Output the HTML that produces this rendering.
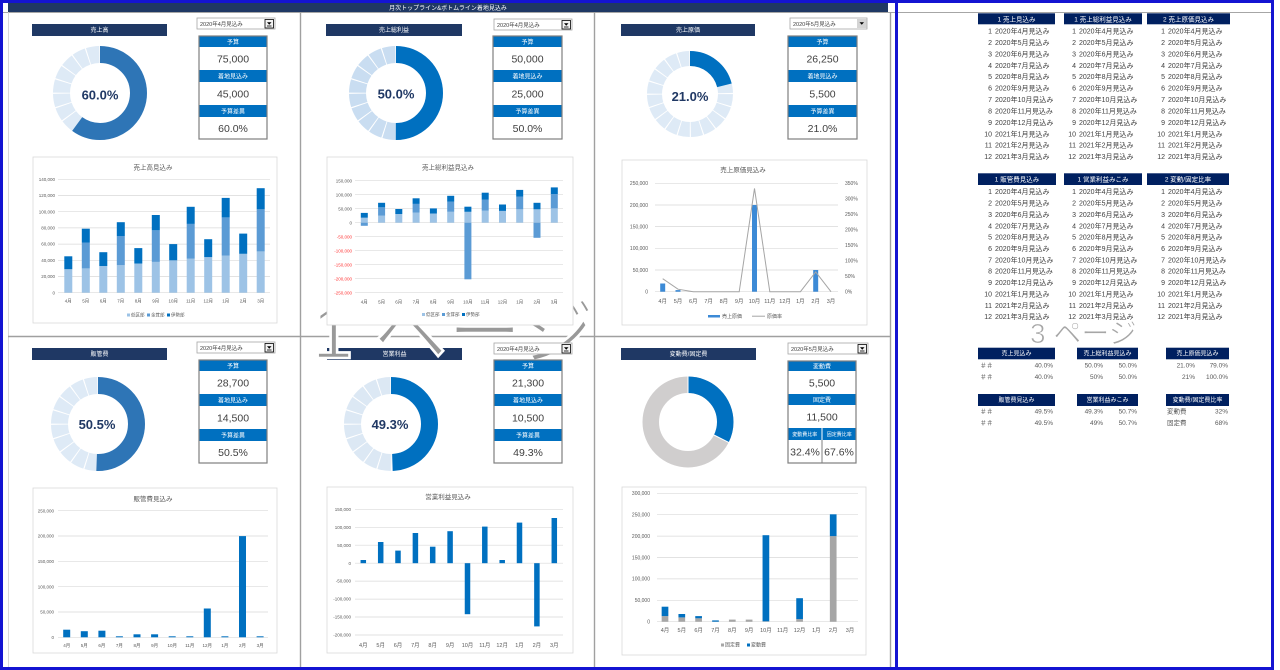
<!DOCTYPE html>
<html><head><meta charset="utf-8">
<style>
html,body{margin:0;padding:0;background:#fff;}
svg{display:block;font-family:"Liberation Sans","Noto Sans CJK JP",sans-serif;}
.t6{font-size:6px;fill:#fff;text-anchor:middle}
.val{font-size:10.5px;fill:#404040;text-anchor:middle}
.pct{font-size:13px;font-weight:bold;fill:#203864;text-anchor:middle}
.ax{font-size:4.5px;fill:#595959;text-anchor:end}
.ax5{font-size:5px;fill:#595959;text-anchor:end}
.axr{font-size:5px;fill:#595959;text-anchor:start}
.xl{font-size:4.5px;fill:#595959;text-anchor:middle}
.xl5{font-size:5.5px;fill:#595959;text-anchor:middle}
.ct{font-size:6.5px;fill:#595959;text-anchor:middle}
.lg{font-size:4.5px;fill:#595959}
.red{fill:#FF3B3B}
.rt{font-size:7px;fill:#404040}
.rn{font-size:7px;fill:#404040;text-anchor:end}
.rh{font-size:6.5px;fill:#fff;text-anchor:middle}
.sv{font-size:6.5px;fill:#595959;text-anchor:end}
.ss{font-size:6.5px;fill:#595959}
.dd{font-size:5.5px;fill:#404040}
.grid{stroke:#D9D9D9;stroke-width:0.7;fill:none}
.cb{fill:#fff;stroke:#D9D9D9;stroke-width:0.8}
</style></head><body>
<svg width="1280" height="670" viewBox="0 0 1280 670" xmlns="http://www.w3.org/2000/svg">
<rect width="1280" height="670" fill="#fff"/>

<!-- title bar and grid lines -->
<rect x="8" y="3" width="880" height="9" fill="#1F3864"/>
<text x="448" y="10" class="t6">月次トップライン&amp;ボトムライン着地見込み</text>
<line x1="3" y1="12.5" x2="895" y2="12.5" stroke="#A6A6A6" stroke-width="1"/>
<line x1="898" y1="12.5" x2="1271" y2="12.5" stroke="#A6A6A6" stroke-width="1"/>
<line x1="8.5" y1="12" x2="8.5" y2="667" stroke="#D0D0D0" stroke-width="0.8"/>
<line x1="300.5" y1="12" x2="300.5" y2="667" stroke="#A0A0A0" stroke-width="1.4"/>
<line x1="594.5" y1="12" x2="594.5" y2="667" stroke="#A0A0A0" stroke-width="1.4"/>
<line x1="890.5" y1="12" x2="890.5" y2="667" stroke="#A0A0A0" stroke-width="1.4"/>
<line x1="8" y1="336.5" x2="890" y2="336.5" stroke="#A0A0A0" stroke-width="1.4"/>

<!-- panel headers -->
<rect x="32" y="24" width="135" height="12" fill="#1F3864"/><text x="99.5" y="32.2" class="t6">売上高</text>
<rect x="326" y="24" width="136" height="12" fill="#1F3864"/><text x="394" y="32.2" class="t6">売上総利益</text>
<rect x="621" y="24" width="134" height="12" fill="#1F3864"/><text x="688" y="32.2" class="t6">売上原価</text>
<rect x="32" y="348" width="135" height="12" fill="#1F3864"/><text x="99.5" y="356.2" class="t6">販管費</text>
<rect x="327" y="348" width="135" height="12" fill="#1F3864"/><text x="394.5" y="356.2" class="t6">営業利益</text>
<rect x="621" y="348" width="135" height="12" fill="#1F3864"/><text x="688.5" y="356.2" class="t6">変動費/固定費</text>

<!-- watermark page 1 -->
<text x="312" y="358" style="font-size:74px;fill:#999999;stroke:#ffffff;stroke-width:2.6px">1 ページ</text>

<!-- value boxes -->
<g transform="translate(199,36)">
<rect width="68" height="103" fill="#fff"/>
<rect width="68" height="11" fill="#0070C0"/><rect y="34" width="68" height="12" fill="#0070C0"/><rect y="69" width="68" height="12" fill="#0070C0"/>
<rect width="68" height="103" fill="none" stroke="#7F7F7F" stroke-width="1.2"/>
<text x="34" y="8" class="t6">予算</text><text x="34" y="26.5" class="val">75,000</text>
<text x="34" y="42.5" class="t6">着地見込み</text><text x="34" y="61.5" class="val">45,000</text>
<text x="34" y="77.5" class="t6">予算差異</text><text x="34" y="96" class="val">60.0%</text>
</g>
<g transform="translate(493,36)">
<rect width="69" height="103" fill="#fff"/>
<rect width="69" height="11" fill="#0070C0"/><rect y="34" width="69" height="12" fill="#0070C0"/><rect y="69" width="69" height="12" fill="#0070C0"/>
<rect width="69" height="103" fill="none" stroke="#7F7F7F" stroke-width="1.2"/>
<text x="34.5" y="8" class="t6">予算</text><text x="34.5" y="26.5" class="val">50,000</text>
<text x="34.5" y="42.5" class="t6">着地見込み</text><text x="34.5" y="61.5" class="val">25,000</text>
<text x="34.5" y="77.5" class="t6">予算差異</text><text x="34.5" y="96" class="val">50.0%</text>
</g>
<g transform="translate(788,36)">
<rect width="69" height="103" fill="#fff"/>
<rect width="69" height="11" fill="#0070C0"/><rect y="34" width="69" height="12" fill="#0070C0"/><rect y="69" width="69" height="12" fill="#0070C0"/>
<rect width="69" height="103" fill="none" stroke="#7F7F7F" stroke-width="1.2"/>
<text x="34.5" y="8" class="t6">予算</text><text x="34.5" y="26.5" class="val">26,250</text>
<text x="34.5" y="42.5" class="t6">着地見込み</text><text x="34.5" y="61.5" class="val">5,500</text>
<text x="34.5" y="77.5" class="t6">予算差異</text><text x="34.5" y="96" class="val">21.0%</text>
</g>
<g transform="translate(199,360)">
<rect width="68" height="103" fill="#fff"/>
<rect width="68" height="11" fill="#0070C0"/><rect y="34" width="68" height="12" fill="#0070C0"/><rect y="69" width="68" height="12" fill="#0070C0"/>
<rect width="68" height="103" fill="none" stroke="#7F7F7F" stroke-width="1.2"/>
<text x="34" y="8" class="t6">予算</text><text x="34" y="26.5" class="val">28,700</text>
<text x="34" y="42.5" class="t6">着地見込み</text><text x="34" y="61.5" class="val">14,500</text>
<text x="34" y="77.5" class="t6">予算差異</text><text x="34" y="96" class="val">50.5%</text>
</g>
<g transform="translate(494,360)">
<rect width="68" height="103" fill="#fff"/>
<rect width="68" height="11" fill="#0070C0"/><rect y="34" width="68" height="12" fill="#0070C0"/><rect y="69" width="68" height="12" fill="#0070C0"/>
<rect width="68" height="103" fill="none" stroke="#7F7F7F" stroke-width="1.2"/>
<text x="34" y="8" class="t6">予算</text><text x="34" y="26.5" class="val">21,300</text>
<text x="34" y="42.5" class="t6">着地見込み</text><text x="34" y="61.5" class="val">10,500</text>
<text x="34" y="77.5" class="t6">予算差異</text><text x="34" y="96" class="val">49.3%</text>
</g>
<g transform="translate(788,361)">
<rect width="68" height="102" fill="#fff"/>
<rect width="68" height="10" fill="#0070C0"/><rect y="33" width="68" height="11" fill="#0070C0"/>
<rect y="67" width="33.5" height="12" fill="#0070C0"/><rect x="34.5" y="67" width="33.5" height="12" fill="#0070C0"/>
<line x1="34" y1="79" x2="34" y2="102" stroke="#7F7F7F" stroke-width="1"/>
<rect width="68" height="102" fill="none" stroke="#7F7F7F" stroke-width="1.2"/>
<text x="34" y="7.5" class="t6">変動費</text><text x="34" y="25.5" class="val">5,500</text>
<text x="34" y="41" class="t6">固定費</text><text x="34" y="59.5" class="val">11,500</text>
<text x="16.75" y="75" class="t6" style="font-size:5px">変動費比率</text><text x="51.25" y="75" class="t6" style="font-size:5px">固定費比率</text>
<text x="17" y="94.5" class="val" style="font-size:10.5px">32.4%</text><text x="51" y="94.5" class="val" style="font-size:10.5px">67.6%</text>
</g>

<!-- dropdowns -->
<g transform="translate(197,18)"><rect width="78" height="11" fill="#fff" stroke="#A6A6A6" stroke-width="0.8"/><text x="3" y="8" class="dd">2020年4月見込み</text><rect x="68" y="1.5" width="8.5" height="8.5" fill="#F2F2F2" stroke="#000" stroke-width="0.8"/><path d="M70 4.3H74.5L72.25 6.8Z" fill="#000"/><rect x="70" y="7.6" width="4.5" height="0.8" fill="#000"/></g>
<g transform="translate(494,19)"><rect width="78" height="11" fill="#fff" stroke="#A6A6A6" stroke-width="0.8"/><text x="3" y="8" class="dd">2020年4月見込み</text><rect x="68" y="1.5" width="8.5" height="8.5" fill="#F2F2F2" stroke="#000" stroke-width="0.8"/><path d="M70 4.3H74.5L72.25 6.8Z" fill="#000"/><rect x="70" y="7.6" width="4.5" height="0.8" fill="#000"/></g>
<g transform="translate(790,18)"><rect width="77" height="11" fill="#fff" stroke="#A6A6A6" stroke-width="0.8"/><text x="3" y="8" class="dd">2020年5月見込み</text><rect x="67" y="1" width="9.5" height="9" fill="#D4D4D4"/><path d="M69.5 4.3H74L71.75 6.8Z" fill="#000"/></g>
<g transform="translate(197,342)"><rect width="78" height="11" fill="#fff" stroke="#A6A6A6" stroke-width="0.8"/><text x="3" y="8" class="dd">2020年4月見込み</text><rect x="68" y="1.5" width="8.5" height="8.5" fill="#F2F2F2" stroke="#000" stroke-width="0.8"/><path d="M70 4.3H74.5L72.25 6.8Z" fill="#000"/><rect x="70" y="7.6" width="4.5" height="0.8" fill="#000"/></g>
<g transform="translate(494,343)"><rect width="78" height="11" fill="#fff" stroke="#A6A6A6" stroke-width="0.8"/><text x="3" y="8" class="dd">2020年4月見込み</text><rect x="68" y="1.5" width="8.5" height="8.5" fill="#F2F2F2" stroke="#000" stroke-width="0.8"/><path d="M70 4.3H74.5L72.25 6.8Z" fill="#000"/><rect x="70" y="7.6" width="4.5" height="0.8" fill="#000"/></g>
<g transform="translate(788,343)"><rect width="80" height="11" fill="#fff" stroke="#A6A6A6" stroke-width="0.8"/><text x="3" y="8" class="dd">2020年5月見込み</text><rect x="70" y="1.5" width="8.5" height="8.5" fill="#F2F2F2" stroke="#000" stroke-width="0.8"/><path d="M72 4.3H76.5L74.25 6.8Z" fill="#000"/><rect x="72" y="7.6" width="4.5" height="0.8" fill="#000"/></g>

<!-- donuts -->
<circle cx="100" cy="93" r="38.5" fill="none" stroke="#DEEAF6" stroke-width="17" stroke-dasharray="11.095 1" transform="rotate(-90 100 93)"/>
<circle cx="100" cy="93" r="38.5" fill="none" stroke="#2E75B6" stroke-width="17" stroke-dasharray="145.14 400" transform="rotate(-90 100 93)"/>
<text x="100" y="99.5" class="pct">60.0%</text>

<circle cx="396" cy="93" r="38.5" fill="none" stroke="#C9DDF1" stroke-width="17" stroke-dasharray="11.095 1" transform="rotate(-90 396 93)"/>
<circle cx="396" cy="93" r="38.5" fill="none" stroke="#0070C0" stroke-width="17" stroke-dasharray="120.95 400" transform="rotate(-90 396 93)"/>
<text x="396" y="98.5" class="pct">50.0%</text>

<circle cx="690" cy="94" r="35.5" fill="none" stroke="#DEEAF6" stroke-width="15" stroke-dasharray="10.153 1" transform="rotate(-90 690 94)"/>
<circle cx="690" cy="94" r="35.5" fill="none" stroke="#0070C0" stroke-width="15" stroke-dasharray="46.84 400" transform="rotate(-90 690 94)"/>
<text x="690" y="101" class="pct">21.0%</text>

<circle cx="98" cy="424" r="38.5" fill="none" stroke="#DEEAF6" stroke-width="17" stroke-dasharray="11.095 1" transform="rotate(-90 98 424)"/>
<circle cx="98" cy="424" r="38.5" fill="none" stroke="#2E75B6" stroke-width="17" stroke-dasharray="122.16 400" transform="rotate(-90 98 424)"/>
<text x="97" y="429" class="pct">50.5%</text>

<circle cx="391" cy="424" r="38.5" fill="none" stroke="#DCE8F4" stroke-width="17" stroke-dasharray="11.095 1" transform="rotate(-90 391 424)"/>
<circle cx="391" cy="424" r="38.5" fill="none" stroke="#0070C0" stroke-width="17" stroke-dasharray="119.26 400" transform="rotate(-90 391 424)"/>
<text x="390" y="429" class="pct">49.3%</text>

<circle cx="688" cy="422" r="37.25" fill="none" stroke="#D0CECE" stroke-width="16.5"/>
<circle cx="688" cy="422" r="37.25" fill="none" stroke="#0070C0" stroke-width="16.5" stroke-dasharray="75.83 400" transform="rotate(-90 688 422)"/>
<line x1="688" y1="393" x2="688" y2="376" stroke="#fff" stroke-width="1"/>
<line x1="713.9" y1="435" x2="729" y2="442.6" stroke="#fff" stroke-width="1"/>

<!-- chart 1 -->
<rect x="33" y="157" width="244" height="166" class="cb"/>
<text x="153" y="169.5" class="ct">売上高見込み</text>
<path class="grid" d="M58 179.3H270M58 195.5H270M58 211.7H270M58 227.9H270M58 244.1H270M58 260.3H270M58 276.5H270M58 292.7H270"/>
<text class="ax"><tspan x="55" y="180.9">140,000</tspan><tspan x="55" y="197.1">120,000</tspan><tspan x="55" y="213.3">100,000</tspan><tspan x="55" y="229.5">80,000</tspan><tspan x="55" y="245.7">60,000</tspan><tspan x="55" y="261.9">40,000</tspan><tspan x="55" y="278.1">20,000</tspan><tspan x="55" y="294.3">0</tspan></text>
<g fill="#9DC3E6">
<rect x="64.3" y="269.2" width="8" height="23.5"/><rect x="81.8" y="268.4" width="8" height="24.3"/><rect x="99.3" y="266" width="8" height="26.7"/><rect x="116.8" y="265.2" width="8" height="27.5"/><rect x="134.3" y="263.5" width="8" height="29.2"/><rect x="151.8" y="261.9" width="8" height="30.8"/><rect x="169.2" y="260.3" width="8" height="32.4"/><rect x="186.7" y="258.7" width="8" height="34"/><rect x="204.2" y="257.1" width="8" height="35.6"/><rect x="221.7" y="255.5" width="8" height="37.2"/><rect x="239.2" y="253.8" width="8" height="38.9"/><rect x="256.7" y="251.4" width="8" height="41.3"/>
</g>
<g fill="#5B9BD5">
<rect x="81.8" y="242.5" width="8" height="25.9"/><rect x="116.8" y="236" width="8" height="29.2"/><rect x="151.8" y="230.3" width="8" height="31.6"/><rect x="186.7" y="223.9" width="8" height="34.8"/><rect x="221.7" y="217.4" width="8" height="38.1"/><rect x="256.7" y="209.3" width="8" height="42.1"/>
</g>
<g fill="#0070C0">
<rect x="64.3" y="256.3" width="8" height="12.9"/><rect x="81.8" y="228.7" width="8" height="13.8"/><rect x="99.3" y="252.2" width="8" height="13.8"/><rect x="116.8" y="222.2" width="8" height="13.8"/><rect x="134.3" y="248.1" width="8" height="15.4"/><rect x="151.8" y="215" width="8" height="15.3"/><rect x="169.2" y="244.1" width="8" height="16.2"/><rect x="186.7" y="206.8" width="8" height="17.1"/><rect x="204.2" y="239.2" width="8" height="17.9"/><rect x="221.7" y="197.9" width="8" height="19.5"/><rect x="239.2" y="233.6" width="8" height="20.2"/><rect x="256.7" y="188.2" width="8" height="21.1"/>
</g>
<text class="xl"><tspan x="68.3" y="302.5">4月</tspan><tspan x="85.8" y="302.5">5月</tspan><tspan x="103.3" y="302.5">6月</tspan><tspan x="120.8" y="302.5">7月</tspan><tspan x="138.3" y="302.5">8月</tspan><tspan x="155.8" y="302.5">9月</tspan><tspan x="173.2" y="302.5">10月</tspan><tspan x="190.7" y="302.5">11月</tspan><tspan x="208.2" y="302.5">12月</tspan><tspan x="225.7" y="302.5">1月</tspan><tspan x="243.2" y="302.5">2月</tspan><tspan x="260.7" y="302.5">3月</tspan></text>
<rect x="127" y="313.5" width="3" height="3" fill="#9DC3E6"/><text x="131" y="316.5" class="lg">低区部</text>
<rect x="147" y="313.5" width="3" height="3" fill="#5B9BD5"/><text x="151" y="316.5" class="lg">金茸部</text>
<rect x="167" y="313.5" width="3" height="3" fill="#0070C0"/><text x="171" y="316.5" class="lg">伊勢部</text>

<!-- chart 2 -->
<rect x="327" y="157" width="246" height="168" class="cb"/>
<text x="448" y="169.5" class="ct">売上総利益見込み</text>
<path class="grid" d="M355 180.7H563M355 194.7H563M355 208.7H563M355 222.7H563M355 236.7H563M355 250.7H563M355 264.7H563M355 278.7H563M355 292.7H563"/>
<text class="ax"><tspan x="352" y="182.3">150,000</tspan><tspan x="352" y="196.3">100,000</tspan><tspan x="352" y="210.3">50,000</tspan><tspan x="352" y="224.3">0</tspan></text>
<text class="ax red"><tspan x="352" y="238.3">-50,000</tspan><tspan x="352" y="252.3">-100,000</tspan><tspan x="352" y="266.3">-150,000</tspan><tspan x="352" y="280.3">-200,000</tspan><tspan x="352" y="294.3">-250,000</tspan></text>
<g fill="#9DC3E6">
<rect x="360.8" y="217.7" width="7" height="5"/><rect x="378.1" y="215.7" width="7" height="7"/><rect x="395.3" y="214" width="7" height="8.7"/><rect x="412.6" y="212.6" width="7" height="10.1"/><rect x="429.9" y="213.5" width="7" height="9.2"/><rect x="447.2" y="211.8" width="7" height="10.9"/><rect x="464.4" y="211.8" width="7" height="10.9"/><rect x="481.7" y="210.7" width="7" height="12"/><rect x="499" y="210.9" width="7" height="11.8"/><rect x="516.2" y="209.3" width="7" height="13.4"/><rect x="533.5" y="209.3" width="7" height="13.4"/><rect x="550.8" y="208.4" width="7" height="14.3"/>
</g>
<g fill="#5B9BD5">
<rect x="360.8" y="222.7" width="7" height="3.1"/><rect x="378.1" y="207.3" width="7" height="8.4"/><rect x="412.6" y="203.9" width="7" height="8.7"/><rect x="447.2" y="201.7" width="7" height="10.1"/><rect x="464.4" y="222.7" width="7" height="56.6"/><rect x="481.7" y="199.5" width="7" height="11.2"/><rect x="516.2" y="196.7" width="7" height="12.6"/><rect x="533.5" y="222.7" width="7" height="15.1"/><rect x="550.8" y="194.1" width="7" height="14.3"/>
</g>
<g fill="#0070C0">
<rect x="360.8" y="212.9" width="7" height="4.8"/><rect x="378.1" y="202.8" width="7" height="4.5"/><rect x="395.3" y="209" width="7" height="5"/><rect x="412.6" y="198.3" width="7" height="5.6"/><rect x="429.9" y="208.4" width="7" height="5.1"/><rect x="447.2" y="195.8" width="7" height="5.9"/><rect x="464.4" y="206.7" width="7" height="5.1"/><rect x="481.7" y="192.7" width="7" height="6.8"/><rect x="499" y="204.5" width="7" height="6.4"/><rect x="516.2" y="189.9" width="7" height="6.8"/><rect x="533.5" y="202.8" width="7" height="6.5"/><rect x="550.8" y="187.4" width="7" height="6.7"/>
</g>
<text class="xl"><tspan x="364.3" y="303.5">4月</tspan><tspan x="381.6" y="303.5">5月</tspan><tspan x="398.8" y="303.5">6月</tspan><tspan x="416.1" y="303.5">7月</tspan><tspan x="433.4" y="303.5">8月</tspan><tspan x="450.7" y="303.5">9月</tspan><tspan x="467.9" y="303.5">10月</tspan><tspan x="485.2" y="303.5">11月</tspan><tspan x="502.5" y="303.5">12月</tspan><tspan x="519.7" y="303.5">1月</tspan><tspan x="537" y="303.5">2月</tspan><tspan x="554.3" y="303.5">3月</tspan></text>
<rect x="422" y="313" width="3" height="3" fill="#9DC3E6"/><text x="426" y="316" class="lg">低区部</text>
<rect x="442" y="313" width="3" height="3" fill="#5B9BD5"/><text x="446" y="316" class="lg">金茸部</text>
<rect x="462" y="313" width="3" height="3" fill="#0070C0"/><text x="466" y="316" class="lg">伊勢部</text>

<!-- chart 3 -->
<rect x="622" y="160" width="245" height="165" class="cb"/>
<text x="743" y="172" class="ct">売上原価見込み</text>
<path class="grid" d="M655 183.3H838M655 205H838M655 226.6H838M655 248.3H838M655 270H838M655 291.7H838"/>
<text class="ax5"><tspan x="648" y="185.1">250,000</tspan><tspan x="648" y="206.8">200,000</tspan><tspan x="648" y="228.4">150,000</tspan><tspan x="648" y="250.1">100,000</tspan><tspan x="648" y="271.8">50,000</tspan><tspan x="648" y="293.5">0</tspan></text>
<text class="axr"><tspan x="845" y="185.1">350%</tspan><tspan x="845" y="200.6">300%</tspan><tspan x="845" y="216">250%</tspan><tspan x="845" y="231.5">200%</tspan><tspan x="845" y="247">150%</tspan><tspan x="845" y="262.5">100%</tspan><tspan x="845" y="278">50%</tspan><tspan x="845" y="293.5">0%</tspan></text>
<g fill="#3C8AD6">
<rect x="660.2" y="283.5" width="5" height="8.2"/><rect x="675.5" y="290.1" width="5" height="1.6"/><rect x="752" y="205" width="5" height="86.7"/><rect x="813.2" y="270" width="5" height="21.7"/>
</g>
<polyline fill="none" stroke="#A5A5A5" stroke-width="1" points="662.7,278.7 678,289.2 693.3,291.7 708.6,291.7 723.9,291.7 739.2,291.7 754.5,188.5 769.8,291.7 785.1,291.7 800.4,291.7 815.7,271.9 831,291.7"/>
<text class="xl5"><tspan x="662.7" y="303">4月</tspan><tspan x="678" y="303">5月</tspan><tspan x="693.3" y="303">6月</tspan><tspan x="708.6" y="303">7月</tspan><tspan x="723.9" y="303">8月</tspan><tspan x="739.2" y="303">9月</tspan><tspan x="754.5" y="303">10月</tspan><tspan x="769.8" y="303">11月</tspan><tspan x="785.1" y="303">12月</tspan><tspan x="800.4" y="303">1月</tspan><tspan x="815.7" y="303">2月</tspan><tspan x="831" y="303">3月</tspan></text>
<rect x="708" y="315" width="12" height="2.5" fill="#3C8AD6"/><text x="722" y="318" class="lg" style="font-size:5px">売上原価</text>
<line x1="752" y1="316.2" x2="765" y2="316.2" stroke="#A5A5A5" stroke-width="1"/><text x="767" y="318" class="lg" style="font-size:5px">原価率</text>

<!-- chart 4 -->
<rect x="33" y="488" width="244" height="165" class="cb"/>
<text x="153" y="501" class="ct">販管費見込み</text>
<path class="grid" d="M58 510.7H268M58 536H268M58 561.3H268M58 586.7H268M58 612H268M58 637.3H268"/>
<text class="ax"><tspan x="54" y="512.3">250,000</tspan><tspan x="54" y="537.6">200,000</tspan><tspan x="54" y="562.9">150,000</tspan><tspan x="54" y="588.3">100,000</tspan><tspan x="54" y="613.6">50,000</tspan><tspan x="54" y="638.9">0</tspan></text>
<g fill="#0070C0">
<rect x="63.2" y="629.7" width="7" height="7.6"/><rect x="80.8" y="631.2" width="7" height="6.1"/><rect x="98.4" y="630.7" width="7" height="6.6"/><rect x="115.9" y="636.3" width="7" height="1"/><rect x="133.5" y="634.3" width="7" height="3"/><rect x="151.1" y="634.3" width="7" height="3"/><rect x="168.7" y="636.3" width="7" height="1"/><rect x="186.3" y="636.3" width="7" height="1"/><rect x="203.8" y="608.5" width="7" height="28.8"/><rect x="221.4" y="636.3" width="7" height="1"/><rect x="239" y="536.1" width="7" height="101.2"/><rect x="256.6" y="636.3" width="7" height="1"/>
</g>
<text class="xl"><tspan x="66.7" y="647">4月</tspan><tspan x="84.3" y="647">5月</tspan><tspan x="101.9" y="647">6月</tspan><tspan x="119.4" y="647">7月</tspan><tspan x="137" y="647">8月</tspan><tspan x="154.6" y="647">9月</tspan><tspan x="172.2" y="647">10月</tspan><tspan x="189.8" y="647">11月</tspan><tspan x="207.3" y="647">12月</tspan><tspan x="224.9" y="647">1月</tspan><tspan x="242.5" y="647">2月</tspan><tspan x="260.1" y="647">3月</tspan></text>

<!-- chart 5 -->
<rect x="327" y="487" width="246" height="166" class="cb"/>
<text x="448" y="499" class="ct">営業利益見込み</text>
<path class="grid" d="M355 509.3H563M355 527.3H563M355 545.2H563M355 563.2H563M355 581.1H563M355 599.1H563M355 617H563M355 635H563"/>
<text class="ax"><tspan x="351" y="510.9">150,000</tspan><tspan x="351" y="528.9">100,000</tspan><tspan x="351" y="546.8">50,000</tspan><tspan x="351" y="564.8">0</tspan><tspan x="351" y="582.7">-50,000</tspan><tspan x="351" y="600.7">-100,000</tspan><tspan x="351" y="618.6">-150,000</tspan><tspan x="351" y="636.6">-200,000</tspan></text>
<g fill="#0070C0">
<rect x="360.55" y="560" width="5.5" height="3.2"/><rect x="377.95" y="542" width="5.5" height="21.2"/><rect x="395.25" y="550.6" width="5.5" height="12.6"/><rect x="412.65" y="533" width="5.5" height="30.2"/><rect x="429.95" y="546.7" width="5.5" height="16.5"/><rect x="447.35" y="531.2" width="5.5" height="32"/><rect x="464.75" y="563.2" width="5.5" height="51"/><rect x="482.05" y="526.6" width="5.5" height="36.6"/><rect x="499.45" y="560" width="5.5" height="3.2"/><rect x="516.75" y="522.6" width="5.5" height="40.6"/><rect x="534.15" y="563.2" width="5.5" height="63.2"/><rect x="551.55" y="518" width="5.5" height="45.2"/>
</g>
<text class="xl5"><tspan x="363.3" y="647">4月</tspan><tspan x="380.7" y="647">5月</tspan><tspan x="398" y="647">6月</tspan><tspan x="415.4" y="647">7月</tspan><tspan x="432.7" y="647">8月</tspan><tspan x="450.1" y="647">9月</tspan><tspan x="467.5" y="647">10月</tspan><tspan x="484.8" y="647">11月</tspan><tspan x="502.2" y="647">12月</tspan><tspan x="519.5" y="647">1月</tspan><tspan x="536.9" y="647">2月</tspan><tspan x="554.3" y="647">3月</tspan></text>

<!-- chart 6 -->
<rect x="622" y="487" width="244" height="168" class="cb"/>
<path class="grid" d="M657 493.3H858M657 514.7H858M657 536.1H858M657 557.5H858M657 578.9H858M657 600.3H858M657 621.7H858"/>
<text class="ax5"><tspan x="650" y="495.1">300,000</tspan><tspan x="650" y="516.5">250,000</tspan><tspan x="650" y="537.9">200,000</tspan><tspan x="650" y="559.3">150,000</tspan><tspan x="650" y="580.7">100,000</tspan><tspan x="650" y="602.1">50,000</tspan><tspan x="650" y="623.5">0</tspan></text>
<g fill="#A6A6A6">
<rect x="661.65" y="616.1" width="6.7" height="5.6"/><rect x="678.45" y="617.4" width="6.7" height="4.3"/><rect x="695.25" y="618.3" width="6.7" height="3.4"/><rect x="728.95" y="619.6" width="6.7" height="2.1"/><rect x="745.75" y="619.6" width="6.7" height="2.1"/><rect x="762.55" y="621.3" width="6.7" height="0.4"/><rect x="796.25" y="619.1" width="6.7" height="2.6"/><rect x="829.85" y="536.1" width="6.7" height="85.6"/>
</g>
<g fill="#0070C0">
<rect x="661.65" y="606.7" width="6.7" height="9.4"/><rect x="678.45" y="614" width="6.7" height="3.4"/><rect x="695.25" y="616.1" width="6.7" height="2.2"/><rect x="712.15" y="620.4" width="6.7" height="1.3"/><rect x="762.55" y="535.2" width="6.7" height="86.1"/><rect x="796.25" y="598.2" width="6.7" height="20.9"/><rect x="829.85" y="514.3" width="6.7" height="21.8"/>
</g>
<text class="xl5"><tspan x="665" y="632">4月</tspan><tspan x="681.8" y="632">5月</tspan><tspan x="698.6" y="632">6月</tspan><tspan x="715.5" y="632">7月</tspan><tspan x="732.3" y="632">8月</tspan><tspan x="749.1" y="632">9月</tspan><tspan x="765.9" y="632">10月</tspan><tspan x="782.7" y="632">11月</tspan><tspan x="799.6" y="632">12月</tspan><tspan x="816.4" y="632">1月</tspan><tspan x="833.2" y="632">2月</tspan><tspan x="850" y="632">3月</tspan></text>
<rect x="721" y="643.5" width="3" height="3" fill="#A6A6A6"/><text x="725" y="646.5" class="lg" style="font-size:5px">固定費</text>
<rect x="747" y="643.5" width="3" height="3" fill="#0070C0"/><text x="751" y="646.5" class="lg" style="font-size:5px">変動費</text>

<!-- right page -->
<text x="1030" y="343" style="font-size:28px;fill:#A6A6A6;stroke:#ffffff;stroke-width:0.8px">3 ページ</text>

<rect x="978" y="13.3" width="77" height="11" fill="#002060"/><text x="1016.5" y="21.3" class="rh">1 売上見込み</text>
<rect x="1064" y="13.3" width="78" height="11" fill="#002060"/><text x="1103" y="21.3" class="rh">1 売上総利益見込み</text>
<rect x="1147" y="13.3" width="83" height="11" fill="#002060"/><text x="1188.5" y="21.3" class="rh">2 売上原価見込み</text>

<text class="rn"><tspan x="992" y="33.5">1</tspan><tspan x="992" y="44.9">2</tspan><tspan x="992" y="56.3">3</tspan><tspan x="992" y="67.8">4</tspan><tspan x="992" y="79.2">5</tspan><tspan x="992" y="90.6">6</tspan><tspan x="992" y="102">7</tspan><tspan x="992" y="113.4">8</tspan><tspan x="992" y="124.9">9</tspan><tspan x="992" y="136.3">10</tspan><tspan x="992" y="147.7">11</tspan><tspan x="992" y="159.1">12</tspan></text>
<text class="rt"><tspan x="995" y="33.5">2020年4月見込み</tspan><tspan x="995" y="44.9">2020年5月見込み</tspan><tspan x="995" y="56.3">2020年6月見込み</tspan><tspan x="995" y="67.8">2020年7月見込み</tspan><tspan x="995" y="79.2">2020年8月見込み</tspan><tspan x="995" y="90.6">2020年9月見込み</tspan><tspan x="995" y="102">2020年10月見込み</tspan><tspan x="995" y="113.4">2020年11月見込み</tspan><tspan x="995" y="124.9">2020年12月見込み</tspan><tspan x="995" y="136.3">2021年1月見込み</tspan><tspan x="995" y="147.7">2021年2月見込み</tspan><tspan x="995" y="159.1">2021年3月見込み</tspan></text>
<text class="rn"><tspan x="1076" y="33.5">1</tspan><tspan x="1076" y="44.9">2</tspan><tspan x="1076" y="56.3">3</tspan><tspan x="1076" y="67.8">4</tspan><tspan x="1076" y="79.2">5</tspan><tspan x="1076" y="90.6">6</tspan><tspan x="1076" y="102">7</tspan><tspan x="1076" y="113.4">8</tspan><tspan x="1076" y="124.9">9</tspan><tspan x="1076" y="136.3">10</tspan><tspan x="1076" y="147.7">11</tspan><tspan x="1076" y="159.1">12</tspan></text>
<text class="rt"><tspan x="1079" y="33.5">2020年4月見込み</tspan><tspan x="1079" y="44.9">2020年5月見込み</tspan><tspan x="1079" y="56.3">2020年6月見込み</tspan><tspan x="1079" y="67.8">2020年7月見込み</tspan><tspan x="1079" y="79.2">2020年8月見込み</tspan><tspan x="1079" y="90.6">2020年9月見込み</tspan><tspan x="1079" y="102">2020年10月見込み</tspan><tspan x="1079" y="113.4">2020年11月見込み</tspan><tspan x="1079" y="124.9">2020年12月見込み</tspan><tspan x="1079" y="136.3">2021年1月見込み</tspan><tspan x="1079" y="147.7">2021年2月見込み</tspan><tspan x="1079" y="159.1">2021年3月見込み</tspan></text>
<text class="rn"><tspan x="1165" y="33.5">1</tspan><tspan x="1165" y="44.9">2</tspan><tspan x="1165" y="56.3">3</tspan><tspan x="1165" y="67.8">4</tspan><tspan x="1165" y="79.2">5</tspan><tspan x="1165" y="90.6">6</tspan><tspan x="1165" y="102">7</tspan><tspan x="1165" y="113.4">8</tspan><tspan x="1165" y="124.9">9</tspan><tspan x="1165" y="136.3">10</tspan><tspan x="1165" y="147.7">11</tspan><tspan x="1165" y="159.1">12</tspan></text>
<text class="rt"><tspan x="1168" y="33.5">2020年4月見込み</tspan><tspan x="1168" y="44.9">2020年5月見込み</tspan><tspan x="1168" y="56.3">2020年6月見込み</tspan><tspan x="1168" y="67.8">2020年7月見込み</tspan><tspan x="1168" y="79.2">2020年8月見込み</tspan><tspan x="1168" y="90.6">2020年9月見込み</tspan><tspan x="1168" y="102">2020年10月見込み</tspan><tspan x="1168" y="113.4">2020年11月見込み</tspan><tspan x="1168" y="124.9">2020年12月見込み</tspan><tspan x="1168" y="136.3">2021年1月見込み</tspan><tspan x="1168" y="147.7">2021年2月見込み</tspan><tspan x="1168" y="159.1">2021年3月見込み</tspan></text>

<rect x="978" y="173.3" width="78" height="11.7" fill="#002060"/><text x="1017" y="181.5" class="rh">1 販管費見込み</text>
<rect x="1064" y="173.3" width="78" height="11.7" fill="#002060"/><text x="1103" y="181.5" class="rh">1 営業利益みこみ</text>
<rect x="1147" y="173.3" width="82" height="11.7" fill="#002060"/><text x="1188" y="181.5" class="rh">2 変動/固定比率</text>

<text class="rn"><tspan x="992" y="194.2">1</tspan><tspan x="992" y="205.6">2</tspan><tspan x="992" y="216.9">3</tspan><tspan x="992" y="228.3">4</tspan><tspan x="992" y="239.6">5</tspan><tspan x="992" y="251">6</tspan><tspan x="992" y="262.4">7</tspan><tspan x="992" y="273.7">8</tspan><tspan x="992" y="285.1">9</tspan><tspan x="992" y="296.4">10</tspan><tspan x="992" y="307.8">11</tspan><tspan x="992" y="319.2">12</tspan></text>
<text class="rt"><tspan x="995" y="194.2">2020年4月見込み</tspan><tspan x="995" y="205.6">2020年5月見込み</tspan><tspan x="995" y="216.9">2020年6月見込み</tspan><tspan x="995" y="228.3">2020年7月見込み</tspan><tspan x="995" y="239.6">2020年8月見込み</tspan><tspan x="995" y="251">2020年9月見込み</tspan><tspan x="995" y="262.4">2020年10月見込み</tspan><tspan x="995" y="273.7">2020年11月見込み</tspan><tspan x="995" y="285.1">2020年12月見込み</tspan><tspan x="995" y="296.4">2021年1月見込み</tspan><tspan x="995" y="307.8">2021年2月見込み</tspan><tspan x="995" y="319.2">2021年3月見込み</tspan></text>
<text class="rn"><tspan x="1076" y="194.2">1</tspan><tspan x="1076" y="205.6">2</tspan><tspan x="1076" y="216.9">3</tspan><tspan x="1076" y="228.3">4</tspan><tspan x="1076" y="239.6">5</tspan><tspan x="1076" y="251">6</tspan><tspan x="1076" y="262.4">7</tspan><tspan x="1076" y="273.7">8</tspan><tspan x="1076" y="285.1">9</tspan><tspan x="1076" y="296.4">10</tspan><tspan x="1076" y="307.8">11</tspan><tspan x="1076" y="319.2">12</tspan></text>
<text class="rt"><tspan x="1079" y="194.2">2020年4月見込み</tspan><tspan x="1079" y="205.6">2020年5月見込み</tspan><tspan x="1079" y="216.9">2020年6月見込み</tspan><tspan x="1079" y="228.3">2020年7月見込み</tspan><tspan x="1079" y="239.6">2020年8月見込み</tspan><tspan x="1079" y="251">2020年9月見込み</tspan><tspan x="1079" y="262.4">2020年10月見込み</tspan><tspan x="1079" y="273.7">2020年11月見込み</tspan><tspan x="1079" y="285.1">2020年12月見込み</tspan><tspan x="1079" y="296.4">2021年1月見込み</tspan><tspan x="1079" y="307.8">2021年2月見込み</tspan><tspan x="1079" y="319.2">2021年3月見込み</tspan></text>
<text class="rn"><tspan x="1165" y="194.2">1</tspan><tspan x="1165" y="205.6">2</tspan><tspan x="1165" y="216.9">3</tspan><tspan x="1165" y="228.3">4</tspan><tspan x="1165" y="239.6">5</tspan><tspan x="1165" y="251">6</tspan><tspan x="1165" y="262.4">7</tspan><tspan x="1165" y="273.7">8</tspan><tspan x="1165" y="285.1">9</tspan><tspan x="1165" y="296.4">10</tspan><tspan x="1165" y="307.8">11</tspan><tspan x="1165" y="319.2">12</tspan></text>
<text class="rt"><tspan x="1168" y="194.2">2020年4月見込み</tspan><tspan x="1168" y="205.6">2020年5月見込み</tspan><tspan x="1168" y="216.9">2020年6月見込み</tspan><tspan x="1168" y="228.3">2020年7月見込み</tspan><tspan x="1168" y="239.6">2020年8月見込み</tspan><tspan x="1168" y="251">2020年9月見込み</tspan><tspan x="1168" y="262.4">2020年10月見込み</tspan><tspan x="1168" y="273.7">2020年11月見込み</tspan><tspan x="1168" y="285.1">2020年12月見込み</tspan><tspan x="1168" y="296.4">2021年1月見込み</tspan><tspan x="1168" y="307.8">2021年2月見込み</tspan><tspan x="1168" y="319.2">2021年3月見込み</tspan></text>

<!-- summary tables -->
<rect x="978" y="347.7" width="77" height="11.6" fill="#002060"/><text x="1016.5" y="355.7" class="rh" style="font-size:6px">売上見込み</text>
<rect x="1077" y="347.7" width="61" height="11.6" fill="#002060"/><text x="1107.5" y="355.7" class="rh" style="font-size:6px">売上総利益見込み</text>
<rect x="1166" y="347.7" width="63" height="11.6" fill="#002060"/><text x="1197.5" y="355.7" class="rh" style="font-size:6px">売上原価見込み</text>
<text x="980" y="367.5" class="ss">＃＃</text><text x="1053" y="367.5" class="sv">40.0%</text><text x="1103" y="367.5" class="sv">50.0%</text><text x="1137" y="367.5" class="sv">50.0%</text><text x="1195" y="367.5" class="sv">21.0%</text><text x="1228" y="367.5" class="sv">79.0%</text>
<text x="980" y="379" class="ss">＃＃</text><text x="1053" y="379" class="sv">40.0%</text><text x="1103" y="379" class="sv">50%</text><text x="1137" y="379" class="sv">50.0%</text><text x="1195" y="379" class="sv">21%</text><text x="1228" y="379" class="sv">100.0%</text>

<rect x="978" y="394" width="77" height="12" fill="#002060"/><text x="1016.5" y="402.2" class="rh" style="font-size:6px">販管費見込み</text>
<rect x="1077" y="394" width="61" height="12" fill="#002060"/><text x="1107.5" y="402.2" class="rh" style="font-size:6px">営業利益みこみ</text>
<rect x="1166" y="394" width="63" height="12" fill="#002060"/><text x="1197.5" y="402.2" class="rh" style="font-size:6px">変動費/固定費比率</text>
<text x="980" y="413.5" class="ss">＃＃</text><text x="1053" y="413.5" class="sv">49.5%</text><text x="1103" y="413.5" class="sv">49.3%</text><text x="1137" y="413.5" class="sv">50.7%</text><text x="1167" y="413.5" class="ss">変動費</text><text x="1228" y="413.5" class="sv">32%</text>
<text x="980" y="425" class="ss">＃＃</text><text x="1053" y="425" class="sv">49.5%</text><text x="1103" y="425" class="sv">49%</text><text x="1137" y="425" class="sv">50.7%</text><text x="1167" y="425" class="ss">固定費</text><text x="1228" y="425" class="sv">68%</text>

<!-- blue page frames -->
<g fill="#1414D2">
<rect x="0" y="0" width="1274" height="3"/>
<rect x="0" y="667" width="1274" height="3"/>
<rect x="0" y="0" width="3" height="670"/>
<rect x="895" y="0" width="3" height="670"/>
<rect x="1271" y="0" width="3" height="670"/>
</g>
</svg>
</body></html>
